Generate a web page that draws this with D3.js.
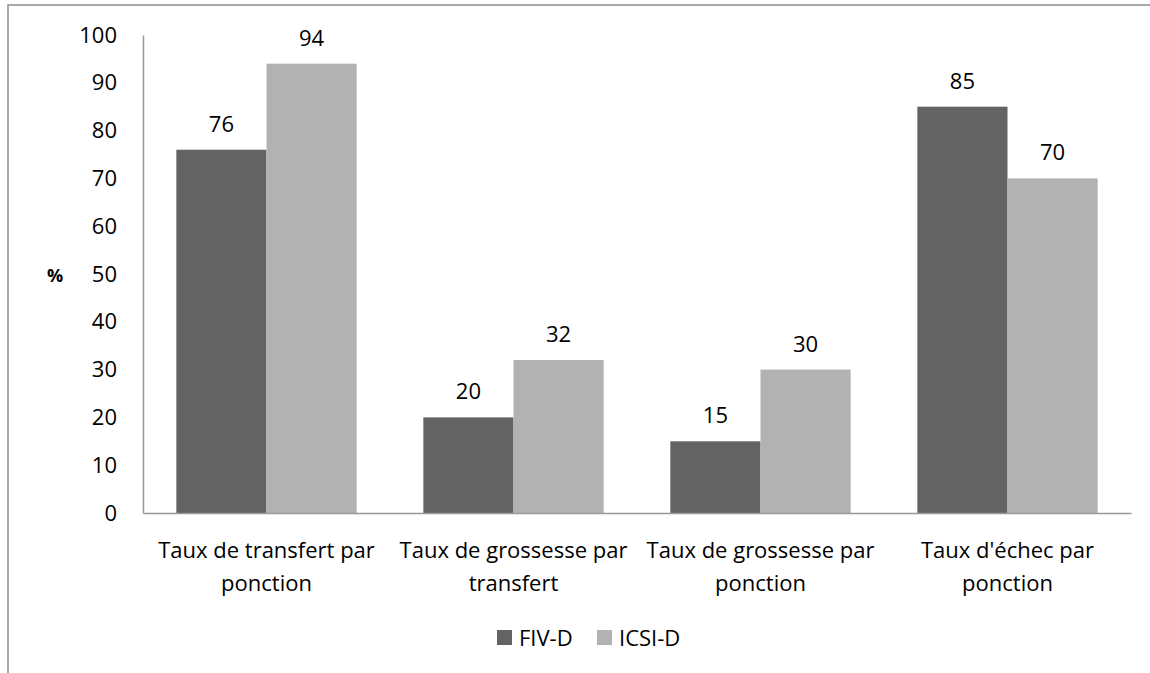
<!DOCTYPE html>
<html>
<head>
<meta charset="utf-8">
<script src="https://cdn.jsdelivr.net/npm/d3@7"></script>
<style>
  body { margin: 0; background: #fff; }
  svg text { font-family: "Open Sans", sans-serif; fill: #000; }
</style>
</head>
<body>
<svg id="chart" width="1150" height="673"></svg>
<script>
// Données
const categories = [
  "Taux de transfert par ponction",
  "Taux de grossesse par transfert",
  "Taux de grossesse par ponction",
  "Taux d'échec par ponction"
];
const series = ["FIV-D", "ICSI-D"];
const fivValues = [76, 20, 15, 85];
const icsiValues = [94, 32, 30, 70];
const yTicks = [0, 10, 20, 30, 40, 50, 60, 70, 80, 90, 100];

const colors = {"FIV-D": "#636363", "ICSI-D": "#b2b2b2"};

const data = categories.map((c, i) => ({cat: c, "FIV-D": fivValues[i], "ICSI-D": icsiValues[i]}));

const svg = d3.select("#chart"),
      margin = {top: 35, right: 19, bottom: 160, left: 143},
      width = +svg.attr("width") - margin.left - margin.right,
      height = +svg.attr("height") - margin.top - margin.bottom;

// cadre
svg.append("rect")
  .attr("x", 8).attr("y", 5)
  .attr("width", 1160).attr("height", 700)
  .attr("fill", "none")
  .attr("stroke", "#8c8c8c")
  .attr("stroke-width", 1.5);

const g = svg.append("g")
  .attr("transform", `translate(${margin.left},${margin.top})`);

const x0 = d3.scaleBand()
  .domain(categories)
  .range([0, width])
  .paddingInner(0.27)
  .paddingOuter(0.135);

const x1 = d3.scaleBand()
  .domain(series)
  .range([0, x0.bandwidth()]);

const y = d3.scaleLinear()
  .domain([0, 100])
  .range([height, 0]);

// Trục Y
const yAxis = g.append("g")
  .call(d3.axisLeft(y).tickValues(yTicks).tickSize(0).tickPadding(26));
yAxis.select(".domain").attr("stroke", "#999").attr("stroke-width", 1.5);
yAxis.selectAll("text").style("font-size", "22px");

// barres
const groups = g.selectAll(".grp")
  .data(data)
  .enter().append("g")
  .attr("transform", d => `translate(${x0(d.cat)},0)`);

groups.selectAll("rect")
  .data(d => series.map(s => ({s: s, v: d[s]})))
  .enter().append("rect")
  .attr("x", d => x1(d.s))
  .attr("y", d => y(d.v))
  .attr("width", x1.bandwidth())
  .attr("height", d => height - y(d.v))
  .attr("fill", d => colors[d.s]);

groups.selectAll(".lbl")
  .data(d => series.map(s => ({s: s, v: d[s]})))
  .enter().append("text")
  .attr("x", d => x1(d.s) + x1.bandwidth() / 2)
  .attr("y", d => y(d.v) - 18)
  .attr("text-anchor", "middle")
  .style("font-size", "22px")
  .text(d => d.v);

// Trục X
const xAxis = g.append("g")
  .attr("transform", `translate(0,${height})`)
  .call(d3.axisBottom(x0).tickSize(0).tickSizeOuter(0).tickPadding(29));
xAxis.select(".domain").attr("stroke", "#999").attr("stroke-width", 1.5);
xAxis.selectAll("text")
  .style("font-size", "22px")
  .call(wrap, x0.step() - 4);

function wrap(texts, w) {
  texts.each(function() {
    const t = d3.select(this);
    const words = t.text().split(" ");
    const yy = t.attr("y"), dy = parseFloat(t.attr("dy"));
    t.text(null);
    let line = [], lineNo = 0;
    let ts = t.append("tspan").attr("x", 0).attr("y", yy).attr("dy", dy + "em");
    words.forEach(wd => {
      line.push(wd);
      ts.text(line.join(" "));
      if (ts.node().getComputedTextLength() > w && line.length > 1) {
        line.pop();
        ts.text(line.join(" "));
        line = [wd];
        lineNo++;
        ts = t.append("tspan").attr("x", 0).attr("y", yy)
          .attr("dy", (dy + lineNo * 1.5) + "em").text(wd);
      }
    });
  });
}

// %
svg.append("text")
  .attr("x", 55).attr("y", 282)
  .attr("text-anchor", "middle")
  .style("font-size", "18px")
  .style("font-weight", "bold")
  .text("%");

// Legend
const legend = svg.append("g").attr("transform", "translate(497,630)");
const legX = [0, 100];
series.forEach((s, i) => {
  legend.append("rect")
    .attr("x", legX[i]).attr("y", 0)
    .attr("width", 15).attr("height", 15)
    .attr("fill", colors[s]);
  legend.append("text")
    .attr("x", legX[i] + 22).attr("y", 16)
    .style("font-size", "22px")
    .text(s);
});
</script>
</body>
</html>
